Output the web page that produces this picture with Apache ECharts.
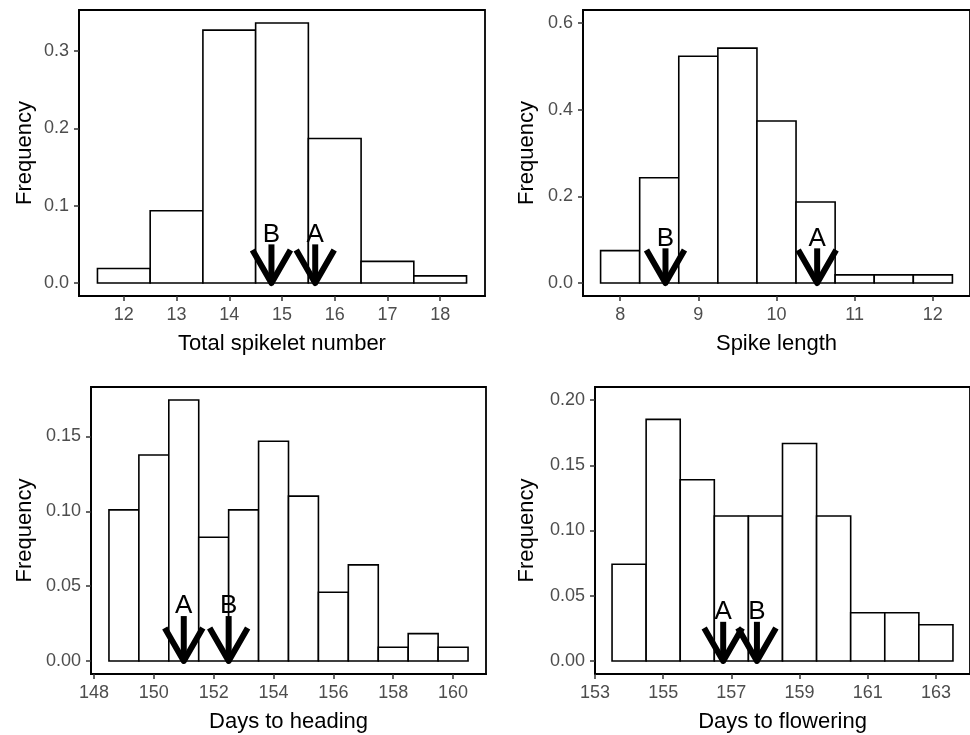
<!DOCTYPE html>
<html>
<head>
<meta charset="utf-8">
<script src="https://cdn.jsdelivr.net/npm/echarts@6/dist/echarts.min.js"></script>
<style>
html,body{margin:0;padding:0;background:#fff;}
#chart{width:970px;height:735px;}
</style>
</head>
<body>
<div id="chart"></div>
<script>
// ---------- Panel 1: Total spikelet number ----------
const spikeletBins = [12, 13, 14, 15, 16, 17, 18];
const spikeletFreq = [0.0187, 0.0935, 0.3271, 0.3364, 0.1869, 0.0280, 0.0093];
const spikeletBinWidth = 1;
const spikeletArrowLabels = ['B', 'A'];
const spikeletArrowX = [14.8, 15.63];
const spikeletArrowTop = 0.05;
const spikeletXTicks = [12, 13, 14, 15, 16, 17, 18];
const spikeletXTickLabels = ['12', '13', '14', '15', '16', '17', '18'];
const spikeletYTicks = [0, 0.1, 0.2, 0.3];
const spikeletYTickLabels = ['0.0', '0.1', '0.2', '0.3'];

// ---------- Panel 2: Spike length ----------
const lengthBins = [8, 8.5, 9, 9.5, 10, 10.5, 11, 11.5, 12];
const lengthFreq = [0.0748, 0.2430, 0.5234, 0.5421, 0.3738, 0.1869, 0.0187, 0.0187, 0.0187];
const lengthBinWidth = 0.5;
const lengthArrowLabels = ['B', 'A'];
const lengthArrowX = [8.58, 10.52];
const lengthArrowTop = 0.08;
const lengthXTicks = [8, 9, 10, 11, 12];
const lengthXTickLabels = ['8', '9', '10', '11', '12'];
const lengthYTicks = [0, 0.2, 0.4, 0.6];
const lengthYTickLabels = ['0.0', '0.2', '0.4', '0.6'];

// ---------- Panel 3: Days to heading ----------
const headingBins = [149, 150, 151, 152, 153, 154, 155, 156, 157, 158, 159, 160];
const headingFreq = [0.1009, 0.1376, 0.1743, 0.0826, 0.1009, 0.1468, 0.1101, 0.0459, 0.0642, 0.0092, 0.0183, 0.0092];
const headingBinWidth = 1;
const headingArrowLabels = ['A', 'B'];
const headingArrowX = [151.0, 152.5];
const headingArrowTop = 0.03;
const headingXTicks = [148, 150, 152, 154, 156, 158, 160];
const headingXTickLabels = ['148', '150', '152', '154', '156', '158', '160'];
const headingYTicks = [0, 0.05, 0.10, 0.15];
const headingYTickLabels = ['0.00', '0.05', '0.10', '0.15'];

// ---------- Panel 4: Days to flowering ----------
const floweringBins = [154, 155, 156, 157, 158, 159, 160, 161, 162, 163];
const floweringFreq = [0.0741, 0.1852, 0.1389, 0.1111, 0.1111, 0.1667, 0.1111, 0.0370, 0.0370, 0.0278];
const floweringBinWidth = 1;
const floweringArrowLabels = ['A', 'B'];
const floweringArrowX = [156.76, 157.75];
const floweringArrowTop = 0.03;
const floweringXTicks = [153, 155, 157, 159, 161, 163];
const floweringXTickLabels = ['153', '155', '157', '159', '161', '163'];
const floweringYTicks = [0, 0.05, 0.10, 0.15, 0.20];
const floweringYTickLabels = ['0.00', '0.05', '0.10', '0.15', '0.20'];

const FONT = 'Liberation Sans, Arial, Helvetica, sans-serif';

const panels = [
  {bins: spikeletBins, freq: spikeletFreq, bw: spikeletBinWidth, arrowLabels: spikeletArrowLabels, arrowX: spikeletArrowX, arrowTop: spikeletArrowTop,
   xTicks: spikeletXTicks, xLabels: spikeletXTickLabels, yTicks: spikeletYTicks, yLabels: spikeletYTickLabels,
   xName: 'Total spikelet number', xRange: [11.15, 18.85], yRange: [-0.0168, 0.3532],
   grid: {left: 79, top: 10, width: 406, height: 286}, yGap: 43},
  {bins: lengthBins, freq: lengthFreq, bw: lengthBinWidth, arrowLabels: lengthArrowLabels, arrowX: lengthArrowX, arrowTop: lengthArrowTop,
   xTicks: lengthXTicks, xLabels: lengthXTickLabels, yTicks: lengthYTicks, yLabels: lengthYTickLabels,
   xName: 'Spike length', xRange: [7.525, 12.475], yRange: [-0.03, 0.63],
   grid: {left: 583, top: 10, width: 390, height: 286}, yGap: 45},
  {bins: headingBins, freq: headingFreq, bw: headingBinWidth, arrowLabels: headingArrowLabels, arrowX: headingArrowX, arrowTop: headingArrowTop,
   xTicks: headingXTicks, xLabels: headingXTickLabels, yTicks: headingYTicks, yLabels: headingYTickLabels,
   xName: 'Days to heading', xRange: [147.9, 161.1], yRange: [-0.0087, 0.183],
   grid: {left: 91, top: 387, width: 395, height: 287}, yGap: 55},
  {bins: floweringBins, freq: floweringFreq, bw: floweringBinWidth, arrowLabels: floweringArrowLabels, arrowX: floweringArrowX, arrowTop: floweringArrowTop,
   xTicks: floweringXTicks, xLabels: floweringXTickLabels, yTicks: floweringYTicks, yLabels: floweringYTickLabels,
   xName: 'Days to flowering', xRange: [153, 164], yRange: [-0.01, 0.21],
   grid: {left: 595, top: 387, width: 379, height: 287}, yGap: 57}
];

function labelFor(ticks, labels) {
  return function (v) {
    const i = ticks.findIndex(t => Math.abs(t - v) < 1e-9);
    return i >= 0 ? labels[i] : '';
  };
}

const grids = [], xAxes = [], yAxes = [], series = [];

panels.forEach((p, k) => {
  grids.push(Object.assign({show: true, borderColor: '#000', borderWidth: 1.8, backgroundColor: '#fff', containLabel: false}, p.grid));
  xAxes.push({
    type: 'value', gridIndex: k, min: p.xRange[0], max: p.xRange[1],
    name: p.xName, nameLocation: 'middle', nameGap: 37,
    nameTextStyle: {fontSize: 22, color: '#000', fontFamily: FONT},
    axisLine: {show: true, onZero: false, lineStyle: {color: '#000', width: 1.8}},
    axisTick: {show: true, length: 5, customValues: p.xTicks, lineStyle: {color: '#333', width: 1.5}},
    axisLabel: {customValues: p.xTicks, formatter: labelFor(p.xTicks, p.xLabels), color: '#4d4d4d', fontSize: 18, margin: 10, fontFamily: FONT},
    splitLine: {show: false}
  });
  yAxes.push({
    type: 'value', gridIndex: k, min: p.yRange[0], max: p.yRange[1],
    name: 'Frequency', nameLocation: 'middle', nameGap: p.yGap,
    nameTextStyle: {fontSize: 22, color: '#000', fontFamily: FONT},
    axisLine: {show: true, onZero: false, lineStyle: {color: '#000', width: 1.8}},
    axisTick: {show: true, length: 5, customValues: p.yTicks, lineStyle: {color: '#333', width: 1.5}},
    axisLabel: {customValues: p.yTicks, formatter: labelFor(p.yTicks, p.yLabels), color: '#4d4d4d', fontSize: 18, margin: 10, fontFamily: FONT},
    splitLine: {show: false}
  });
  const bw = p.bw;
  series.push({
    type: 'custom', xAxisIndex: k, yAxisIndex: k, silent: true, z: 2,
    data: p.bins.map((b, i) => [b, p.freq[i]]),
    renderItem: function (params, api) {
      const c = api.value(0), h = api.value(1);
      const tl = api.coord([c - bw / 2, h]);
      const br = api.coord([c + bw / 2, 0]);
      return {
        type: 'rect',
        shape: {x: tl[0], y: tl[1], width: br[0] - tl[0], height: br[1] - tl[1]},
        style: {fill: '#fff', stroke: '#000', lineWidth: 1.6}
      };
    }
  });
  const top = p.arrowTop;
  series.push({
    type: 'custom', xAxisIndex: k, yAxisIndex: k, silent: true, z: 5,
    data: p.arrowX.map((x, i) => [x, top, p.arrowLabels[i]]),
    renderItem: function (params, api) {
      const x = api.value(0);
      const tip = api.coord([x, 0]);
      const start = api.coord([x, api.value(1)]);
      const lbl = p.arrowLabels[params.dataIndex];
      return {
        type: 'group',
        children: [
          {type: 'line', shape: {x1: start[0], y1: start[1], x2: tip[0], y2: tip[1]},
           style: {stroke: '#000', lineWidth: 6, lineCap: 'butt'}},
          {type: 'polyline', shape: {points: [[tip[0] - 19, tip[1] - 33], [tip[0], tip[1]], [tip[0] + 19, tip[1] - 33]]},
           style: {stroke: '#000', fill: null, lineWidth: 6, lineJoin: 'round', lineCap: 'butt'}},
          {type: 'text', x: start[0], y: start[1] + 3,
           style: {text: lbl, fill: '#000', fontSize: 26, fontFamily: FONT, align: 'center', verticalAlign: 'bottom'}}
        ]
      };
    }
  });
});

const chart = echarts.init(document.getElementById('chart'), null, {renderer: 'canvas'});
chart.setOption({
  backgroundColor: '#fff',
  animation: false,
  grid: grids,
  xAxis: xAxes,
  yAxis: yAxes,
  series: series
});
</script>
</body>
</html>
